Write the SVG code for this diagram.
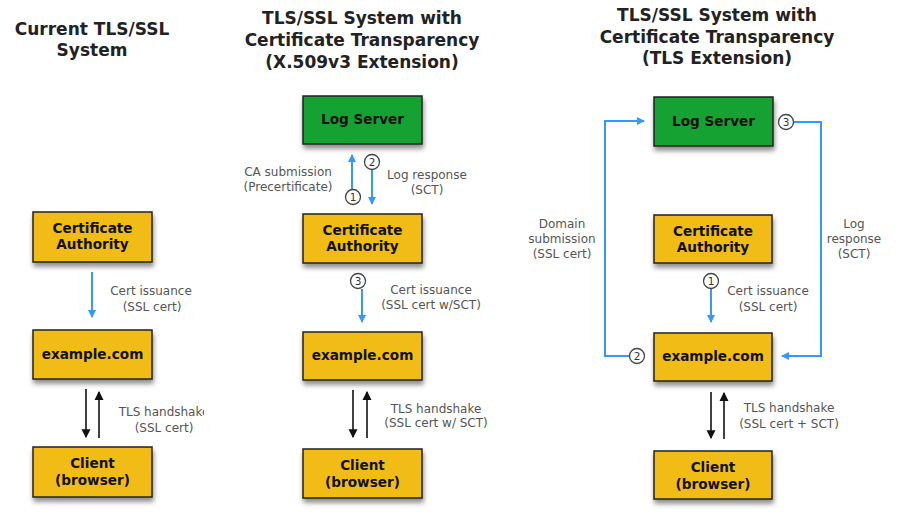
<svg xmlns="http://www.w3.org/2000/svg" width="900" height="521" viewBox="0 0 900 521">
<style>
.title{font-family:"DejaVu Sans",Verdana,sans-serif;font-weight:bold;font-size:17px;fill:#222;text-anchor:middle}
.box{stroke:#222;stroke-width:1.5;filter:url(#sh)}
.y{fill:#F1BC19}
.g{fill:#17A232}
.bt{font-family:"DejaVu Sans",Verdana,sans-serif;font-weight:bold;font-size:13.6px;fill:#111;text-anchor:middle}
.lbl{font-family:"DejaVu Sans",Verdana,sans-serif;font-size:12px;fill:#555;text-anchor:middle}
.blue{stroke:#3399FF;stroke-width:2;fill:none}
.blk{stroke:#111;stroke-width:1.6;fill:none}
.num circle{fill:#fff;stroke:#444;stroke-width:1.3}
.num text{font-family:"DejaVu Sans",Verdana,sans-serif;font-size:10.5px;fill:#333;text-anchor:middle}
</style>
<defs>
<filter id="sh" x="-20%" y="-20%" width="140%" height="160%">
<feDropShadow dx="1" dy="4" stdDeviation="2.5" flood-color="#000" flood-opacity="0.45"/>
</filter>
<marker id="ab" markerWidth="8" markerHeight="10" refX="7" refY="4" orient="auto" markerUnits="userSpaceOnUse" viewBox="0 0 8 8">
<path d="M0,0 L8,4 L0,8 z" fill="#3399FF"/>
</marker>
<marker id="ak" markerWidth="9" markerHeight="10" refX="7" refY="4" orient="auto" markerUnits="userSpaceOnUse" viewBox="0 0 8 8">
<path d="M0,0 L8,4 L0,8 z" fill="#111"/>
</marker>
<clipPath id="clip1"><rect x="0" y="395" width="204" height="40"/></clipPath>
</defs>

<g id="titles">
<text class="title" x="92" y="35">Current TLS/SSL</text>
<text class="title" x="92" y="56">System</text>
<text class="title" x="362" y="24">TLS/SSL System with</text>
<text class="title" x="362" y="46">Certificate Transparency</text>
<text class="title" x="362" y="68">(X.509v3 Extension)</text>
<text class="title" x="717" y="21">TLS/SSL System with</text>
<text class="title" x="717" y="43">Certificate Transparency</text>
<text class="title" x="717" y="64">(TLS Extension)</text>
</g>

<!-- Column 1 -->
<g id="ca1"><rect class="box y" x="33" y="212" width="119" height="50"/><text class="bt" x="92.5" y="233">Certificate</text><text class="bt" x="92.5" y="249">Authority</text></g>
<g id="ex1"><rect class="box y" x="33" y="330" width="119" height="49"/><text class="bt" x="92.5" y="359">example.com</text></g>
<g id="cl1"><rect class="box y" x="33" y="447" width="119" height="50"/><text class="bt" x="92.5" y="468">Client</text><text class="bt" x="92.5" y="485">(browser)</text></g>

<!-- Column 2 -->
<g id="log2"><rect class="box g" x="303" y="96" width="119" height="48"/><text class="bt" x="362.5" y="124">Log Server</text></g>
<g id="ca2"><rect class="box y" x="303" y="214" width="119" height="49"/><text class="bt" x="362.5" y="235">Certificate</text><text class="bt" x="362.5" y="251">Authority</text></g>
<g id="ex2"><rect class="box y" x="303" y="332" width="119" height="48"/><text class="bt" x="362.5" y="360">example.com</text></g>
<g id="cl2"><rect class="box y" x="303" y="449" width="119" height="49"/><text class="bt" x="362.5" y="470">Client</text><text class="bt" x="362.5" y="487">(browser)</text></g>

<!-- Column 3 -->
<g id="log3"><rect class="box g" x="654" y="97" width="119" height="49"/><text class="bt" x="713.5" y="126">Log Server</text></g>
<g id="ca3"><rect class="box y" x="654" y="215" width="118" height="48"/><text class="bt" x="713" y="236">Certificate</text><text class="bt" x="713" y="252">Authority</text></g>
<g id="ex3"><rect class="box y" x="654" y="333" width="118" height="48"/><text class="bt" x="713" y="361">example.com</text></g>
<g id="cl3"><rect class="box y" x="654" y="451" width="118" height="48"/><text class="bt" x="713" y="472">Client</text><text class="bt" x="713" y="489">(browser)</text></g>

<g id="connectors">
<!-- col1 -->
<line class="blue" x1="92" y1="272" x2="92" y2="317" marker-end="url(#ab)"/>
<line class="blk" x1="86" y1="389" x2="86" y2="437" marker-end="url(#ak)"/>
<line class="blk" x1="99" y1="438" x2="99" y2="392" marker-end="url(#ak)"/>
<!-- col2 -->
<line class="blue" x1="352" y1="189" x2="352" y2="155" marker-end="url(#ab)"/>
<line class="blue" x1="372" y1="170" x2="372" y2="204" marker-end="url(#ab)"/>
<line class="blue" x1="362" y1="289" x2="362" y2="322" marker-end="url(#ab)"/>
<line class="blk" x1="353" y1="390" x2="353" y2="437" marker-end="url(#ak)"/>
<line class="blk" x1="367" y1="438" x2="367" y2="392" marker-end="url(#ak)"/>
<!-- col3 -->
<polyline class="blue" points="629,356 605,356 605,121 644,121" marker-end="url(#ab)"/>
<polyline class="blue" points="794,122 821,122 821,356 782,356" marker-end="url(#ab)"/>
<line class="blue" x1="711" y1="289" x2="711" y2="322" marker-end="url(#ab)"/>
<line class="blk" x1="711" y1="392" x2="711" y2="438" marker-end="url(#ak)"/>
<line class="blk" x1="724" y1="439" x2="724" y2="393" marker-end="url(#ak)"/>
</g>

<g id="numbers" class="num">
<g><circle cx="353" cy="197" r="7.5"/><text x="353" y="200.8">1</text></g>
<g><circle cx="372" cy="162" r="7.5"/><text x="372" y="165.8">2</text></g>
<g><circle cx="358" cy="281" r="7.5"/><text x="358" y="284.8">3</text></g>
<g><circle cx="711" cy="281" r="7.5"/><text x="711" y="284.8">1</text></g>
<g><circle cx="637" cy="356" r="7.5"/><text x="637" y="359.8">2</text></g>
<g><circle cx="786" cy="122" r="7.5"/><text x="786" y="125.8">3</text></g>
</g>

<g id="labels">
<text class="lbl" x="151" y="295">Cert issuance</text>
<text class="lbl" x="152" y="311">(SSL cert)</text>
<g clip-path="url(#clip1)"><text class="lbl" x="164" y="416">TLS handshake</text></g>
<text class="lbl" x="164" y="432">(SSL cert)</text>

<text class="lbl" x="288" y="176">CA submission</text>
<text class="lbl" x="288" y="191">(Precertificate)</text>
<text class="lbl" x="427" y="179">Log response</text>
<text class="lbl" x="427" y="194">(SCT)</text>
<text class="lbl" x="431" y="294">Cert issuance</text>
<text class="lbl" x="431" y="309">(SSL cert w/SCT)</text>
<text class="lbl" x="436" y="413">TLS handshake</text>
<text class="lbl" x="436" y="427">(SSL cert w/ SCT)</text>

<text class="lbl" x="562" y="228">Domain</text>
<text class="lbl" x="562" y="243">submission</text>
<text class="lbl" x="562" y="258">(SSL cert)</text>
<text class="lbl" x="854" y="228">Log</text>
<text class="lbl" x="854" y="243">response</text>
<text class="lbl" x="854" y="258">(SCT)</text>
<text class="lbl" x="768" y="295">Cert issuance</text>
<text class="lbl" x="768" y="311">(SSL cert)</text>
<text class="lbl" x="789" y="412">TLS handshake</text>
<text class="lbl" x="789" y="428">(SSL cert + SCT)</text>
</g>
</svg>
